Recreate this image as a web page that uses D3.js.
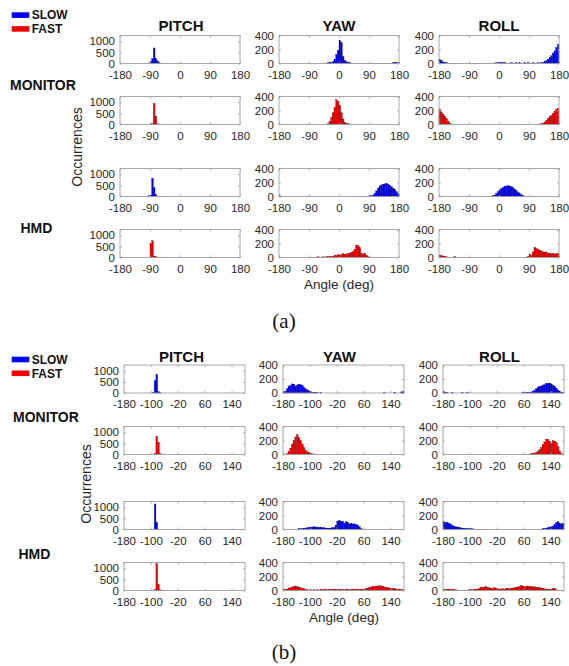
<!DOCTYPE html>
<html>
<head>
<meta charset="utf-8">
<script src="https://cdn.jsdelivr.net/npm/d3@7"></script>
<style>
  body { margin: 0; background: #fff; }
  text { font-family: Arial, "Liberation Sans", sans-serif; }
</style>
</head>
<body>
<div id="chart"></div>
<script>
// Labels and ticks
const axisNames = ['PITCH', 'YAW', 'ROLL'];
const deviceNames = ['MONITOR', 'HMD'];
const speedNames = ['SLOW', 'FAST'];
const ticksA = [-180, -90, 0, 90, 180];
const ticksB = [-180, -100, -20, 60, 140];
const pitchTicks = [0, 500, 1000];
const pitchMax = 1260;
const yawRollTicks = [0, 200, 400];
const yawRollMax = 400;
const binWidth = 5; // degrees

// Histograms: list of [first bin start (deg), counts per 5 deg bin]
// (a) MONITOR SLOW
const aMonSlowPitch = [[-95, [20, 80, 220, 700, 230, 120, 40, 10]]];
const aMonSlowYaw = [[-45, [5, 5, 10, 15, 15, 30, 60, 130, 190, 330, 300, 100, 45, 25, 15, 10, 5, 5, 0, 5, 0, 5, 0, 5, 0, 5, 5, 0, 5, 5, 0, 5, 5, 0, 5, 5, 0, 5, 5, 5, 5, 10, 15, 15, 10]]];
const aMonSlowRoll = [[-180, [55, 45, 20, 10, 15, 5, 5, 5, 0, 5, 0, 5, 0, 5, 0, 0, 5, 0, 5, 0, 5, 0, 5, 0, 5, 0, 5, 0, 5, 5, 5, 5, 5, 5, 10, 10, 15, 15, 10, 10, 5, 5, 5, 10, 5, 5, 10, 5, 10, 5, 5, 10, 5, 10, 5, 5, 10, 5, 5, 10, 5, 10, 15, 25, 40, 60, 85, 110, 150, 180, 230, 275]]];
// (a) MONITOR FAST
const aMonFastPitch = [[-90, [20, 40, 950, 380, 30, 10]]];
const aMonFastYaw = [[-35, [10, 40, 100, 170, 240, 355, 330, 270, 170, 80, 30, 15, 10, 5]]];
const aMonFastRoll = [[-180, [220, 180, 150, 120, 90, 50, 20, 5]], [120, [5, 10, 20, 35, 60, 90, 110, 130, 160, 190, 220, 230]]];
// (a) HMD SLOW
const aHmdSlowPitch = [[-100, [10, 30, 60, 820, 400, 80, 20, 10, 5, 5, 5]]];
const aHmdSlowYaw = [[-180, [10, 5]], [40, [5, 0, 5, 0, 5, 5, 0, 5, 5, 5, 10, 10, 20, 45, 80, 120, 150, 165, 175, 180, 190, 175, 160, 140, 120, 100, 70, 40]]];
const aHmdSlowRoll = [[-180, [5]], [-60, [5, 0, 5, 0, 5, 0, 5, 0, 10, 20, 45, 70, 95, 115, 130, 140, 150, 155, 150, 140, 125, 105, 85, 60, 40, 25, 10, 5]], [95, [5, 5, 5]]];
// (a) HMD FAST
const aHmdFastPitch = [[-95, [10, 620, 760, 60, 30, 15, 10, 10, 10, 5, 5]]];
const aHmdFastYaw = [[-80, [5, 5, 5, 10, 5, 5, 10, 5, 10, 10, 10, 15, 15, 25, 30, 40, 35, 40, 55, 45, 50, 55, 60, 75, 85, 110, 175, 170, 140, 60, 45, 60, 35, 10, 5]]];
const aHmdFastRoll = [[-180, [35, 30, 20, 10, 10, 5, 5, 5, 5, 10, 5, 0, 0, 5]], [85, [20, 50, 30, 80, 145, 130, 115, 100, 95, 80, 75, 80, 60, 60, 55, 60, 50, 55, 55]]];

// (b) MONITOR SLOW
const bMonSlowPitch = [[-95, [20, 560, 820, 60, 10]]];
const bMonSlowYaw = [[-180, [20, 25, 60, 90, 110, 130, 125, 100, 115, 125, 120, 110, 80, 60, 45, 30, 20, 10, 5, 5, 5, 0, 5]], [120, [5, 0, 0, 0, 0, 0, 10, 0, 0, 0, 15, 20]]];
const bMonSlowRoll = [[-180, [20, 10, 5, 0, 0, 5, 0, 0, 0, 0, 0, 5, 0, 0, 10]], [55, [5, 5, 5, 10, 5, 15, 20, 40, 60, 80, 95, 100, 105, 120, 140, 135, 140, 130, 110, 90, 70, 40, 25, 10, 5]]];
// (b) MONITOR FAST
const bMonFastPitch = [[-90, [30, 800, 550, 40, 10]]];
const bMonFastYaw = [[-175, [5, 10, 40, 90, 150, 200, 250, 285, 240, 200, 150, 100, 60, 40, 25, 15, 10, 5, 5, 5]]];
const bMonFastRoll = [[45, [5, 0, 5, 0, 5, 0, 5, 10, 15, 20, 30, 45, 70, 100, 140, 180, 220, 215, 190, 160, 200, 190, 170, 110, 50, 15, 5]]];
// (b) HMD SLOW
const bHmdSlowPitch = [[-95, [5, 1150, 320, 20, 5]]];
const bHmdSlowYaw = [[-160, [5, 0, 5, 5, 5, 10, 10, 15, 15, 20, 25, 30, 35, 35, 40, 35, 35, 30, 30, 25, 25, 20, 20, 20, 20, 25, 30, 60, 120, 130, 110, 120, 90, 110, 100, 80, 90, 80, 80, 70, 60, 40, 15, 5, 5]]];
const bHmdSlowRoll = [[-180, [110, 100, 105, 90, 80, 60, 50, 40, 35, 30, 25, 20, 20, 15, 15, 10, 10, 10, 5, 5, 5, 5, 5, 0, 5, 0, 5, 0, 5]], [95, [5, 0, 5, 5, 10, 15, 20, 25, 30, 40, 50, 70, 100, 110, 90, 80, 90]]];
// (b) HMD FAST
const bHmdFastPitch = [[-90, [40, 1200, 280, 30, 10, 10, 5, 5]]];
const bHmdFastYaw = [[-180, [10, 15, 20, 30, 40, 50, 55, 65, 55, 45,
  40, 30, 25, 15, 10, 5, 10, 5, 10, 5,
  10, 5, 10, 10, 15, 10, 10, 15, 10, 15,
  20, 15, 10, 15, 10, 15, 10, 20, 15, 10,
  15, 10, 20, 15, 10, 15, 20, 15, 20, 25,
  35, 45, 50, 60, 55, 65, 60, 70, 65, 60,
  50, 45, 40, 35, 30, 25, 25, 20, 15, 20,
  15, 10]]];
const bHmdFastRoll = [[-180, [10, 15, 20, 15, 20, 15, 10, 10, 5, 5,
  5, 5, 5, 5, 5, 10, 10, 10, 15, 20,
  20, 30, 40, 50, 45, 55, 45, 40, 35, 30,
  40, 30, 25, 20, 20, 25, 20, 25, 30, 25,
  30, 35, 40, 45, 50, 60, 70, 65, 55, 60,
  65, 55, 60, 50, 55, 45, 40, 45, 35, 30,
  25, 20, 15, 15, 20, 30, 25, 10, 5, 5,
  5, 5]]];

const speedColors = {
  SLOW: { fill: '#0000f2', edge: '#000080' },
  FAST: { fill: '#f00000', edge: '#800000' }
};

const width = 569, height = 666;
const svg = d3.select('#chart').append('svg')
  .attr('width', width)
  .attr('height', height);
svg.append('rect').attr('width', width).attr('height', height).attr('fill', '#fff');

// Layout of the two figures
const figures = [
  {
    label: '(a)', labelX: 284, labelY: 328,
    xTicks: ticksA,
    colLeft: [120, 279, 439], boxW: 120, boxH: 28,
    rowTop: [35.5, 96.5, 168.5, 229.5],
    titleY: 31, legendY: 12.3,
    deviceX: [10, 20.5], deviceY: [90, 232.7],
    occX: 77, occY: 147, angleX: 339, angleY: 289,
    panels: [
      [aMonSlowPitch, aMonSlowYaw, aMonSlowRoll],
      [aMonFastPitch, aMonFastYaw, aMonFastRoll],
      [aHmdSlowPitch, aHmdSlowYaw, aHmdSlowRoll],
      [aHmdFastPitch, aHmdFastYaw, aHmdFastRoll]
    ]
  },
  {
    label: '(b)', labelX: 284, labelY: 659,
    xTicks: ticksB,
    colLeft: [124, 283, 443], boxW: 121, boxH: 28,
    rowTop: [365, 426.5, 501.5, 562.5],
    titleY: 361.5, legendY: 356.7,
    deviceX: [13, 18.5], deviceY: [422, 559],
    occX: 86, occY: 484, angleX: 344, angleY: 622,
    panels: [
      [bMonSlowPitch, bMonSlowYaw, bMonSlowRoll],
      [bMonFastPitch, bMonFastYaw, bMonFastRoll],
      [bHmdSlowPitch, bHmdSlowYaw, bHmdSlowRoll],
      [bHmdFastPitch, bHmdFastYaw, bHmdFastRoll]
    ]
  }
];

// plain hyphen minus like the original figure
const plainFormat = d => String(d);

function drawPanel(g, segs, x, y, xTicks, yTicks, color, w, h) {
  // flatten segments into bins
  const bins = [];
  segs.forEach(([start, counts]) => {
    counts.forEach((c, i) => {
      if (c > 0) bins.push({ a0: start + i * binWidth, c: c });
    });
  });

  g.append('g').selectAll('rect')
    .data(bins)
    .enter()
    .append('rect')
    .attr('x', d => x(d.a0))
    .attr('width', d => x(Math.min(d.a0 + binWidth, 180)) - x(d.a0))
    .attr('y', d => y(d.c))
    .attr('height', d => y(0) - y(d.c))
    .attr('fill', color.fill)
    .attr('stroke', color.edge)
    .attr('stroke-width', 0.3);

  // axes, ticks pointing inward like matlab
  const bottom = g.append('g').attr('transform', `translate(0,${h})`)
    .call(d3.axisBottom(x).tickValues(xTicks).tickSize(-2).tickPadding(7).tickFormat(plainFormat));
  const top = g.append('g')
    .call(d3.axisTop(x).tickValues(xTicks).tickSize(-2).tickFormat(''));
  const left = g.append('g')
    .call(d3.axisLeft(y).tickValues(yTicks).tickSize(-2).tickPadding(5).tickFormat(plainFormat));
  const right = g.append('g').attr('transform', `translate(${w},0)`)
    .call(d3.axisRight(y).tickValues(yTicks).tickSize(-2).tickFormat(''));

  [bottom, top, left, right].forEach(a => {
    a.select('.domain').remove();
    a.selectAll('line').attr('stroke', '#9a9a9a').attr('stroke-width', 0.8);
    a.selectAll('text')
      .attr('fill', '#262626')
      .style('font-size', '11.5px')
      .style('font-family', 'Arial, "Liberation Sans", sans-serif');
  });
  bottom.selectAll('text').attr('dy', '0.71em');

  g.append('rect')
    .attr('width', w)
    .attr('height', h)
    .attr('fill', 'none')
    .attr('stroke', '#a0a0a0')
    .attr('stroke-width', 0.9);
}

figures.forEach(fig => {
  // legend
  speedNames.forEach((s, i) => {
    const ly = fig.legendY + i * 13.8;
    svg.append('rect')
      .attr('x', 11.7).attr('y', ly)
      .attr('width', 17.6).attr('height', 5.6)
      .attr('fill', speedColors[s].fill);
    svg.append('text')
      .attr('x', 31.7).attr('y', ly + 7)
      .text(s)
      .style('font-size', '12px')
      .style('font-weight', 'bold')
      .attr('fill', '#111');
  });

  // column titles
  axisNames.forEach((name, j) => {
    svg.append('text')
      .attr('x', fig.colLeft[j] + fig.boxW / 2 + (j === 0 ? 1 : 0) - (fig.label === '(b)' ? 4 : 0))
      .attr('y', fig.titleY)
      .attr('text-anchor', 'middle')
      .text(name)
      .style('font-size', '15px')
      .style('font-weight', 'bold')
      .attr('fill', '#111');
  });

  // device labels
  deviceNames.forEach((name, k) => {
    svg.append('text')
      .attr('x', fig.deviceX[k]).attr('y', fig.deviceY[k])
      .text(name)
      .style('font-size', '14px')
      .style('font-weight', 'bold')
      .attr('fill', '#111');
  });

  // panels
  fig.panels.forEach((row, r) => {
    const speed = speedNames[r % 2];
    row.forEach((segs, j) => {
      const isPitch = j === 0;
      const x = d3.scaleLinear().domain([-180, 180]).range([0, fig.boxW]);
      const y = d3.scaleLinear()
        .domain([0, isPitch ? pitchMax : yawRollMax])
        .range([fig.boxH, 0]);
      const g = svg.append('g')
        .attr('transform', `translate(${fig.colLeft[j]},${fig.rowTop[r]})`);
      drawPanel(g, segs, x, y, fig.xTicks, isPitch ? pitchTicks : yawRollTicks,
        speedColors[speed], fig.boxW, fig.boxH);
    });
  });

  // axis titles
  svg.append('text')
    .attr('transform', `translate(${fig.occX},${fig.occY}) rotate(-90)`)
    .attr('text-anchor', 'middle')
    .attr('dy', '0.35em')
    .text('Occurrences')
    .style('font-size', '14px')
    .attr('fill', '#262626');

  svg.append('text')
    .attr('x', fig.angleX).attr('y', fig.angleY)
    .attr('text-anchor', 'middle')
    .text('Angle (deg)')
    .style('font-size', '13.5px')
    .attr('fill', '#262626');

  svg.append('text')
    .attr('x', fig.labelX).attr('y', fig.labelY)
    .attr('text-anchor', 'middle')
    .text(fig.label)
    .style('font-size', '21px')
    .style('font-family', '"Liberation Serif", "Times New Roman", serif')
    .attr('fill', '#111');
});
</script>
</body>
</html>
